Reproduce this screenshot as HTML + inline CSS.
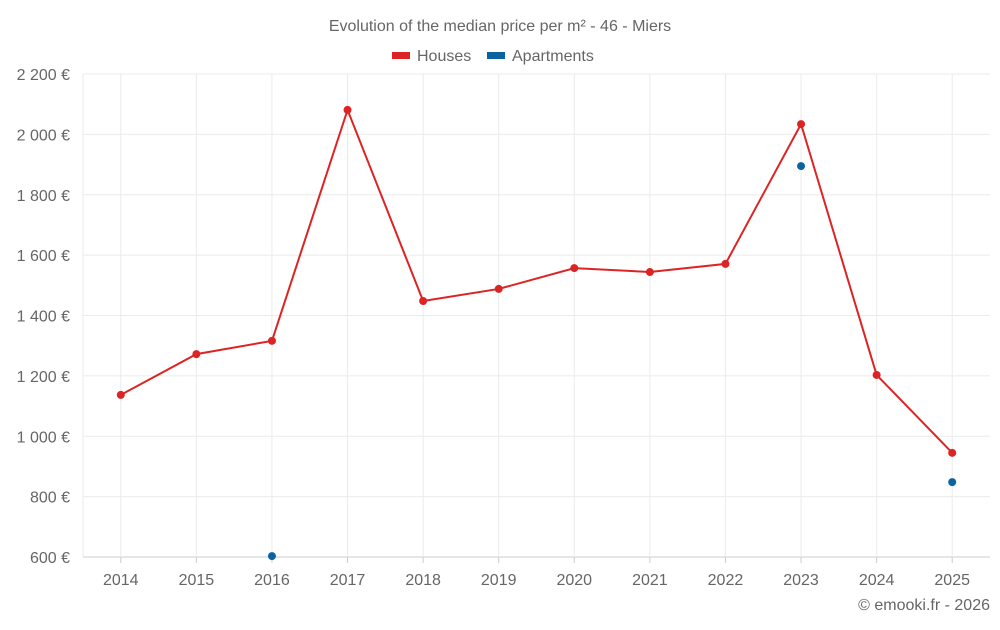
<!DOCTYPE html>
<html><head><meta charset="utf-8"><style>
body{margin:0;background:#fff;font-family:"Liberation Sans",sans-serif;}
svg text{font-family:"Liberation Sans",sans-serif;fill:#666;}
</style></head><body>
<svg id="chart" width="1000" height="625" xmlns="http://www.w3.org/2000/svg">
<text x="500" y="31" text-anchor="middle" font-size="16">Evolution of the median price per m² - 46 - Miers</text>
<g>
<g><rect x="392" y="52" width="18" height="7" fill="#dc2424"/><text x="417" y="61" font-size="16">Houses</text></g>
<g><rect x="487" y="52" width="18" height="7" fill="#0a64a0"/><text x="512" y="61" font-size="16">Apartments</text></g>
</g>
<g id="grid"></g>
<g id="axes"></g>
<g id="series"></g>
<text x="990" y="610" text-anchor="end" font-size="16">© emooki.fr - 2026</text>
</svg>
<script>
const years=["2014","2015","2016","2017","2018","2019","2020","2021","2022","2023","2024","2025"];
const houses=[1137,1272,1316,2081,1448,1488,1557,1544,1571,2034,1203,945];
const apartments=[null,null,603,null,null,null,null,null,null,1895,null,848];
const yTicks=[600,800,1000,1200,1400,1600,1800,2000,2200];
const yTickLabels=["600 €","800 €","1 000 €","1 200 €","1 400 €","1 600 €","1 800 €","2 000 €","2 200 €"];
const L=83,R=990,T=74,B=557,yMin=600,yMax=2200;
const bw=(R-L)/years.length;
const x=i=>L+bw*(i+0.5);
const y=v=>B-(v-yMin)/(yMax-yMin)*(B-T);
const NS="http://www.w3.org/2000/svg";
function mk(p,t,a){const e=document.createElementNS(NS,t);for(const k in a)e.setAttribute(k,a[k]);p.appendChild(e);return e;}
const grid=document.getElementById('grid'),axes=document.getElementById('axes'),series=document.getElementById('series');
yTicks.forEach((v,i)=>{
 const l=mk(grid,'line',{x1:L,x2:R,y1:y(v),y2:y(v),stroke:i==0?'#ccc':'#ebebeb'});
 
 
 const t=mk(axes,'text',{x:L-13,y:y(v)+6,'text-anchor':'end','font-size':'16'});
 t.textContent=yTickLabels[i];
 
 
});
mk(grid,'line',{x1:L,x2:L,y1:T,y2:B,stroke:'#ebebeb'});
years.forEach((yr,i)=>{
 const l=mk(grid,'line',{x1:x(i),x2:x(i),y1:T,y2:B,stroke:'#ebebeb'});
 
 
 mk(axes,'line',{x1:x(i),x2:x(i),y1:B,y2:B+6,stroke:'#ccc'});
 const t=mk(axes,'text',{x:x(i),y:B+28,'text-anchor':'middle','font-size':'16'});
 t.textContent=yr;
 
 
});
let d='';houses.forEach((v,i)=>{if(v!=null)d+=(d?'L':'M')+x(i)+','+y(v);});
const pl=mk(series,'path',{d:d,fill:'none',stroke:'#dc2424','stroke-width':2});


houses.forEach((v,i)=>{if(v==null)return;
 const c=mk(series,'circle',{cx:x(i),cy:y(v),r:4,fill:'#dc2424'});
 
 
});
apartments.forEach((v,i)=>{if(v==null)return;
 const c=mk(series,'circle',{cx:x(i),cy:y(v),r:4,fill:'#0a64a0'});
 
 
});
</script>
</body></html>
